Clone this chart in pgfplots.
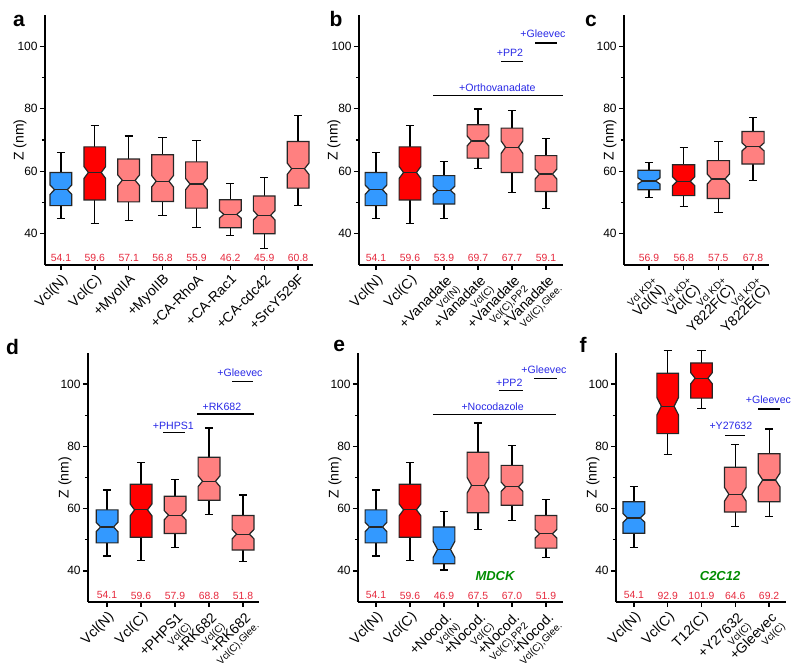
\documentclass[border=0pt]{standalone}
\usepackage{fontspec}
\setmainfont{Liberation Sans}
\usepackage{pgfplots}
\pgfplotsset{compat=1.18}

\definecolor{cblue}{RGB}{51,153,255}
\definecolor{cred}{RGB}{255,0,0}
\definecolor{clred}{RGB}{255,128,128}
\definecolor{numred}{RGB}{230,40,60}
\definecolor{annblue}{RGB}{40,40,230}
\definecolor{mgreen}{RGB}{0,140,0}

\newcommand\subf{\fontsize{5}{6}\selectfont}
\newcommand\numf{\fontsize{5.2}{5.2}\selectfont}
\newcommand\annf{\fontsize{5.3}{5.3}\selectfont}
% two-line tick label: main line over small line
\newcommand\tl[2]{\begin{tabular}{@{}r@{}}#1\\[-2.6pt]{\subf #2}\end{tabular}}
% two-line tick label: small line over main line
\newcommand\tk[2]{\begin{tabular}{@{}r@{}}{\subf #1}\\[-2.2pt]#2\end{tabular}}

% notched box: x, lower whisker, q1, median, q3, upper whisker, notch half-height, colour
\newcommand{\nbox}[8]{%
  \pgfmathsetmacro\bxL{#1-0.32}%
  \pgfmathsetmacro\bxR{#1+0.32}%
  \pgfmathsetmacro\bxNL{#1-0.19}%
  \pgfmathsetmacro\bxNR{#1+0.19}%
  \pgfmathsetmacro\bxLo{#4-#7}%
  \pgfmathsetmacro\bxHi{#4+#7}%
  \pgfmathsetmacro\bxCL{#1-0.12}%
  \pgfmathsetmacro\bxCR{#1+0.12}%
  \addplot[black, line width=0.6pt] coordinates {(#1,#3) (#1,#2)};
  \addplot[black, line width=0.6pt] coordinates {(\bxCL,#2) (\bxCR,#2)};
  \addplot[black, line width=0.6pt] coordinates {(#1,#5) (#1,#6)};
  \addplot[black, line width=0.6pt] coordinates {(\bxCL,#6) (\bxCR,#6)};
  \addplot[draw=black!85, fill=#8, line width=0.6pt, line join=miter] coordinates {(\bxL,#3) (\bxR,#3) (\bxR,\bxLo) (\bxNR,#4) (\bxR,\bxHi) (\bxR,#5) (\bxL,#5) (\bxL,\bxHi) (\bxNL,#4) (\bxL,\bxLo)} --cycle;
  \addplot[black!85, line width=0.6pt] coordinates {(\bxNL,#4) (\bxNR,#4)};
}

\pgfplotsset{
  panel/.style={
    scale only axis, anchor=north west,
    ymin=30, ymax=110,
    ytick={40,60,80,100}, minor ytick={50,70,90},
    axis x line*=bottom, axis y line*=left,
    tick align=outside,
    axis line style={line width=0.9pt, black},
    major tick length=2.5pt, minor tick length=1.6pt,
    every tick/.style={line width=0.7pt, black},
    /pgf/number format/assume math mode=true,
    yticklabel style={font=\fontsize{6}{6}\selectfont, inner sep=1pt},
    xticklabel style={rotate=45, anchor=north east,
      font=\fontsize{7}{8.4}\selectfont, inner sep=1pt},
    ylabel={Z (nm)},
    every axis y label/.style={rotate=90, anchor=center, font=\fontsize{7}{7}\selectfont},
    clip=false,
  }
}

\begin{document}
\begin{tikzpicture}
\useasboundingbox (0,0) rectangle (400pt,-333.5pt);

% ---------------- a ----------------
\begin{axis}[panel, at={(22.5pt,-7.5pt)}, width=134pt, height=125pt,
  xmin=-0.47, xmax=7.44, xtick={0,...,7},
  xticklabels={Vcl(N),Vcl(C),+MyoIIA,+MyoIIB,+CA-RhoA,+CA-Rac1,+CA-cdc42,+SrcY529F},
  every axis y label/.append style={at={(axis description cs:-0.093,0.5)}}]
\nbox{0}{44.8}{49.0}{54.1}{59.6}{66.0}{1.5}{cblue}
\nbox{1}{43.4}{50.8}{59.6}{67.8}{74.7}{1.9}{cred}
\nbox{2}{44.3}{50.2}{57.1}{63.9}{71.3}{1.7}{clred}
\nbox{3}{45.8}{50.3}{56.8}{65.3}{70.9}{1.8}{clred}
\nbox{4}{41.9}{48.2}{55.9}{63.0}{69.9}{1.8}{clred}
\nbox{5}{39.4}{41.9}{46.2}{50.9}{56.1}{1.2}{clred}
\nbox{6}{35.4}{40.0}{45.9}{52.1}{58.1}{1.5}{clred}
\nbox{7}{49.1}{54.6}{60.8}{69.5}{77.9}{1.8}{clred}
\node[numred, font=\numf] at (axis cs:0,32.3) {54.1};
\node[numred, font=\numf] at (axis cs:1,32.3) {59.6};
\node[numred, font=\numf] at (axis cs:2,32.3) {57.1};
\node[numred, font=\numf] at (axis cs:3,32.3) {56.8};
\node[numred, font=\numf] at (axis cs:4,32.3) {55.9};
\node[numred, font=\numf] at (axis cs:5,32.3) {46.2};
\node[numred, font=\numf] at (axis cs:6,32.3) {45.9};
\node[numred, font=\numf] at (axis cs:7,32.3) {60.8};
\end{axis}

% ---------------- b ----------------
\begin{axis}[panel, at={(179.5pt,-7.5pt)}, width=102pt, height=125pt,
  xmin=-0.5, xmax=5.5, xtick={0,...,5},
  xticklabels={Vcl(N),Vcl(C),{\tl{+Vanadate}{Vcl(N)}},{\tl{+Vanadate}{Vcl(C)}},{\tl{+Vanadate}{Vcl(C),PP2}},{\tl{+Vanadate}{Vcl(C),Glee.}}},
  every axis y label/.append style={at={(axis description cs:-0.1225,0.5)}}]
\nbox{0}{44.8}{49.0}{54.1}{59.6}{66.0}{1.5}{cblue}
\nbox{1}{43.4}{50.8}{59.6}{67.8}{74.7}{1.9}{cred}
\nbox{2}{45.0}{49.5}{53.9}{58.6}{63.1}{1.3}{cblue}
\nbox{3}{60.8}{64.2}{69.7}{74.9}{79.9}{1.6}{clred}
\nbox{4}{53.3}{59.6}{67.7}{73.8}{79.5}{2.0}{clred}
\nbox{5}{48.2}{53.5}{59.1}{65.0}{70.6}{1.6}{clred}
\addplot[black, line width=0.8pt] coordinates {(1.68,84.3) (5.5,84.3)};
\addplot[black, line width=0.8pt] coordinates {(3.68,95.1) (4.32,95.1)};
\addplot[black, line width=0.8pt] coordinates {(4.68,101.0) (5.32,101.0)};
\node[annblue, font=\annf] at (axis cs:3.57,86.7) {+Orthovanadate};
\node[annblue, font=\annf] at (axis cs:3.94,97.8) {+PP2};
\node[annblue, font=\annf] at (axis cs:4.91,103.9) {+Gleevec};
\node[numred, font=\numf] at (axis cs:0,32.3) {54.1};
\node[numred, font=\numf] at (axis cs:1,32.3) {59.6};
\node[numred, font=\numf] at (axis cs:2,32.3) {53.9};
\node[numred, font=\numf] at (axis cs:3,32.3) {69.7};
\node[numred, font=\numf] at (axis cs:4,32.3) {67.7};
\node[numred, font=\numf] at (axis cs:5,32.3) {59.1};
\end{axis}

% ---------------- c ----------------
\begin{axis}[panel, at={(312pt,-7.5pt)}, width=72.5pt, height=125pt,
  xmin=-0.72, xmax=3.46, xtick={0,...,3},
  xticklabels={{\tk{Vcl KD+}{Vcl(N)}},{\tk{Vcl KD+}{Vcl(C)}},{\tk{Vcl KD+}{Y822F(C)}},{\tk{Vcl KD+}{Y822E(C)}}},
  every axis y label/.append style={at={(axis description cs:-0.097,0.5)}}]
\nbox{0}{51.6}{54.1}{56.9}{60.3}{62.8}{1.0}{cblue}
\nbox{1}{48.7}{52.2}{56.8}{62.1}{67.7}{1.4}{cred}
\nbox{2}{46.9}{51.3}{57.5}{63.4}{69.5}{1.6}{clred}
\nbox{3}{57.0}{62.3}{67.8}{72.7}{77.3}{1.3}{clred}
\node[numred, font=\numf] at (axis cs:0,32.3) {56.9};
\node[numred, font=\numf] at (axis cs:1,32.3) {56.8};
\node[numred, font=\numf] at (axis cs:2,32.3) {57.5};
\node[numred, font=\numf] at (axis cs:3,32.3) {67.8};
\end{axis}

% ---------------- d ----------------
\begin{axis}[panel, at={(44pt,-176.5pt)}, width=85.5pt, height=124.5pt,
  xmin=-0.56, xmax=4.47, xtick={0,...,4},
  xticklabels={Vcl(N),Vcl(C),{\tl{+PHPS1}{Vcl(C)}},{\tl{+RK682}{Vcl(C)}},{\tl{+RK682}{Vcl(C),Glee.}}},
  every axis y label/.append style={at={(axis description cs:-0.1345,0.5)}}]
\nbox{0}{44.8}{49.0}{54.1}{59.6}{66.0}{1.5}{cblue}
\nbox{1}{43.4}{50.8}{59.6}{67.8}{74.7}{1.9}{cred}
\nbox{2}{47.5}{52.0}{57.9}{64.0}{69.4}{1.5}{clred}
\nbox{3}{58.2}{62.7}{68.8}{76.5}{85.9}{1.7}{clred}
\nbox{4}{43.0}{46.7}{51.8}{57.8}{64.4}{1.5}{clred}
\addplot[black, line width=0.8pt] coordinates {(1.65,84.4) (2.3,84.4)};
\addplot[black, line width=0.8pt] coordinates {(2.66,90.4) (4.33,90.4)};
\addplot[black, line width=0.8pt] coordinates {(3.69,100.9) (4.3,100.9)};
\node[annblue, font=\annf] at (axis cs:1.95,86.6) {+PHPS1};
\node[annblue, font=\annf] at (axis cs:3.38,92.7) {+RK682};
\node[annblue, font=\annf] at (axis cs:3.91,103.8) {+Gleevec};
\node[numred, font=\numf] at (axis cs:0,32.1) {54.1};
\node[numred, font=\numf] at (axis cs:1,32.1) {59.6};
\node[numred, font=\numf] at (axis cs:2,32.1) {57.9};
\node[numred, font=\numf] at (axis cs:3,32.1) {68.8};
\node[numred, font=\numf] at (axis cs:4,32.1) {51.8};
\end{axis}

% ---------------- e ----------------
\begin{axis}[panel, at={(179pt,-176.5pt)}, width=102.5pt, height=124.5pt,
  xmin=-0.53, xmax=5.5, xtick={0,...,5},
  xticklabels={Vcl(N),Vcl(C),{\tl{+Nocod.}{Vcl(N)}},{\tl{+Nocod.}{Vcl(C)}},{\tl{+Nocod.}{Vcl(C),PP2}},{\tl{+Nocod.}{Vcl(C),Glee.}}},
  every axis y label/.append style={at={(axis description cs:-0.112,0.5)}}]
\nbox{0}{44.8}{49.0}{54.1}{59.6}{66.0}{1.5}{cblue}
\nbox{1}{43.4}{50.8}{59.6}{67.8}{74.7}{1.9}{cred}
\nbox{2}{40.3}{42.3}{46.9}{54.1}{59.2}{2.6}{cblue}
\nbox{3}{53.4}{58.7}{67.5}{78.1}{87.5}{2.5}{clred}
\nbox{4}{56.3}{61.1}{67.0}{73.9}{80.4}{1.5}{clred}
\nbox{5}{44.3}{47.3}{51.9}{57.8}{63.0}{1.4}{clred}
\addplot[black, line width=0.8pt] coordinates {(1.67,90.2) (5.3,90.2)};
\addplot[black, line width=0.8pt] coordinates {(3.63,97.9) (4.31,97.9)};
\addplot[black, line width=0.8pt] coordinates {(4.65,101.8) (5.31,101.8)};
\node[annblue, font=\annf] at (axis cs:3.43,92.9) {+Nocodazole};
\node[annblue, font=\annf] at (axis cs:3.92,100.4) {+PP2};
\node[annblue, font=\annf] at (axis cs:4.94,104.6) {+Gleevec};
\node[mgreen, font=\fontsize{6.5}{6.5}\selectfont\bfseries\itshape] at (axis cs:3.5,38.5) {MDCK};
\node[numred, font=\numf] at (axis cs:0,32.1) {54.1};
\node[numred, font=\numf] at (axis cs:1,32.1) {59.6};
\node[numred, font=\numf] at (axis cs:2,32.1) {46.9};
\node[numred, font=\numf] at (axis cs:3,32.1) {67.5};
\node[numred, font=\numf] at (axis cs:4,32.1) {67.0};
\node[numred, font=\numf] at (axis cs:5,32.1) {51.9};
\end{axis}

% ---------------- f ----------------
\begin{axis}[panel, at={(308pt,-176.5pt)}, width=85pt, height=124.5pt,
  xmin=-0.53, xmax=4.5, xtick={0,...,4},
  xticklabels={Vcl(N),Vcl(C),T12(C),{\tl{+Y27632}{Vcl(C)}},{\tl{+Gleevec}{Vcl(C)}}},
  every axis y label/.append style={at={(axis description cs:-0.135,0.5)}}]
\nbox{0}{47.4}{52.1}{57.0}{62.2}{67.2}{1.4}{cblue}
\nbox{1}{77.4}{84.1}{92.9}{103.5}{110.8}{2.8}{cred}
\nbox{2}{92.2}{95.5}{101.9}{106.8}{110.8}{1.8}{cred}
\nbox{3}{54.2}{58.9}{64.6}{73.3}{80.7}{2.2}{clred}
\nbox{4}{57.4}{62.2}{69.2}{77.6}{85.6}{2.2}{clred}
\addplot[black, line width=0.8pt] coordinates {(2.7,83.5) (3.29,83.5)};
\addplot[black, line width=0.8pt] coordinates {(3.68,92.0) (4.33,92.0)};
\node[annblue, font=\annf] at (axis cs:2.87,86.5) {+Y27632};
\node[annblue, font=\annf] at (axis cs:3.98,95.0) {+Gleevec};
\node[mgreen, font=\fontsize{6.5}{6.5}\selectfont\bfseries\itshape] at (axis cs:2.55,38.3) {C2C12};
\node[numred, font=\numf] at (axis cs:0,32.1) {54.1};
\node[numred, font=\numf] at (axis cs:1,32.1) {92.9};
\node[numred, font=\numf] at (axis cs:2,32.1) {101.9};
\node[numred, font=\numf] at (axis cs:3,32.1) {64.6};
\node[numred, font=\numf] at (axis cs:4,32.1) {69.2};
\end{axis}

% panel letters
\node[anchor=base, font=\fontsize{10.5}{10.5}\selectfont\bfseries] at (9.5pt,-13.5pt) {a};
\node[anchor=base, font=\fontsize{10.5}{10.5}\selectfont\bfseries] at (168pt,-13.3pt) {b};
\node[anchor=base, font=\fontsize{10.5}{10.5}\selectfont\bfseries] at (295.5pt,-13.3pt) {c};
\node[anchor=base, font=\fontsize{10.5}{10.5}\selectfont\bfseries] at (6.3pt,-177.5pt) {d};
\node[anchor=base, font=\fontsize{10.5}{10.5}\selectfont\bfseries] at (169.6pt,-175.8pt) {e};
\node[anchor=base, font=\fontsize{10.5}{10.5}\selectfont\bfseries] at (291.5pt,-176.3pt) {f};
\end{tikzpicture}
\end{document}
